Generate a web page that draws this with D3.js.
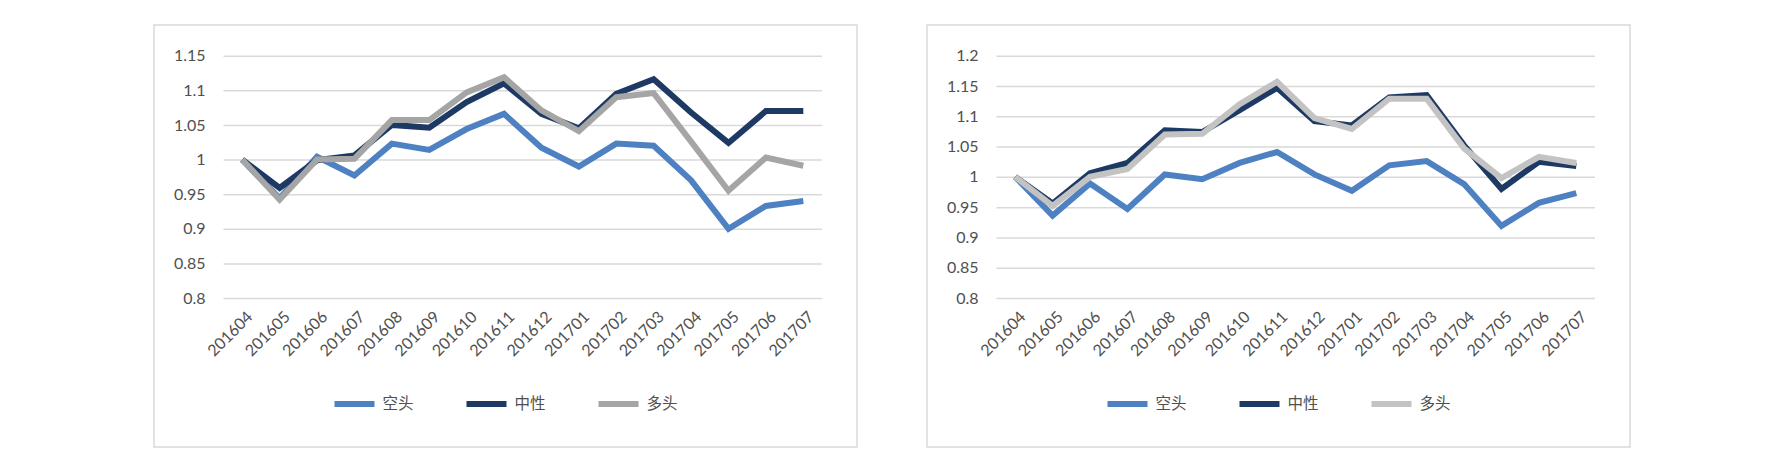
<!DOCTYPE html>
<html>
<head>
<meta charset="utf-8">
<script src="https://cdn.jsdelivr.net/npm/d3@7"></script>
<style>
  body { margin: 0; background: #fff; }
  svg text { font-family: Lato, "Noto Sans CJK SC", sans-serif; fill: #505050; }
</style>
</head>
<body>
<div id="chart"></div>
<script>
// Data
var months = ["201604", "201605", "201606", "201607", "201608", "201609", "201610", "201611",
  "201612", "201701", "201702", "201703", "201704", "201705", "201706", "201707"];
var seriesNames = ["空头", "中性", "多头"];

var yTicksLeft = [0.8, 0.85, 0.9, 0.95, 1, 1.05, 1.1, 1.15];
var yTicksRight = [0.8, 0.85, 0.9, 0.95, 1, 1.05, 1.1, 1.15, 1.2];

var leftKong = [1, 0.944, 1.004, 0.977, 1.023, 1.014, 1.044, 1.066, 1.017, 0.990, 1.023, 1.020, 0.970, 0.900, 0.933, 0.940];
var leftZhong = [1, 0.959, 0.999, 1.006, 1.050, 1.046, 1.083, 1.110, 1.066, 1.045, 1.095, 1.116, 1.068, 1.024, 1.070, 1.070];
var leftDuo = [1, 0.942, 1.000, 1.001, 1.057, 1.057, 1.097, 1.119, 1.071, 1.041, 1.090, 1.096, 1.026, 0.955, 1.003, 0.991];

var rightKong = [1, 0.936, 0.989, 0.947, 1.004, 0.996, 1.023, 1.041, 1.004, 0.977, 1.019, 1.026, 0.988, 0.919, 0.957, 0.973];
var rightZhong = [1, 0.956, 1.006, 1.023, 1.077, 1.074, 1.110, 1.147, 1.092, 1.085, 1.131, 1.135, 1.052, 0.980, 1.025, 1.018];
var rightDuo = [1, 0.952, 1.000, 1.013, 1.070, 1.071, 1.120, 1.157, 1.097, 1.079, 1.129, 1.129, 1.047, 0.998, 1.033, 1.023];

// Page setup
var svgWidth = 1768;
var svgHeight = 466;

var svg = d3.select("#chart").append("svg")
  .attr("width", svgWidth)
  .attr("height", svgHeight);

function drawChart(boxX, ticks, values, colors) {
  var box = { x: boxX, y: 25, w: 703, h: 422 };
  var plot = { left: boxX + 69.5, right: boxX + 668, top: 55.7, bottom: 298 };

  var g = svg.append("g");

  g.append("rect")
    .attr("x", box.x)
    .attr("y", box.y)
    .attr("width", box.w)
    .attr("height", box.h)
    .attr("fill", "#fff")
    .attr("stroke", "#d9d9d9")
    .attr("stroke-width", 1.5);

  var xScale = d3.scalePoint()
    .domain(months)
    .range([plot.left, plot.right])
    .padding(0.5);

  var yScale = d3.scaleLinear()
    .domain([d3.min(ticks), d3.max(ticks)])
    .range([plot.bottom, plot.top]);

  // gridlines + y labels
  var leftAxis = d3.axisLeft(yScale)
    .tickValues(ticks)
    .tickSize(-(plot.right - plot.left))
    .tickPadding(18)
    .tickFormat(d => d3.format("")(+d.toFixed(2)));

  var yAxis = g.append("g")
    .attr("transform", `translate(${plot.left}, 0)`)
    .call(leftAxis);
  yAxis.select(".domain").remove();
  yAxis.selectAll(".tick line")
    .attr("stroke", "#d9d9d9")
    .attr("stroke-width", 1.5);
  yAxis.selectAll(".tick text")
    .attr("font-size", "16px")
    .attr("fill", "#505050");

  // x labels, rotated
  var bottomAxis = d3.axisBottom(xScale).tickSize(0).tickPadding(0);
  var xAxis = g.append("g")
    .attr("transform", `translate(0, ${plot.bottom})`)
    .call(bottomAxis);
  xAxis.select(".domain").remove();
  xAxis.selectAll(".tick text")
    .attr("font-size", "16px")
    .attr("fill", "#505050")
    .attr("text-anchor", "end")
    .attr("dy", "0.35em")
    .attr("transform", "translate(7, 16) rotate(-45)");

  // lines
  var line = d3.line()
    .x((d, i) => xScale(months[i]))
    .y(d => yScale(d));

  values.forEach(function(vals, k) {
    g.append("path")
      .datum(vals)
      .attr("d", line)
      .attr("fill", "none")
      .attr("stroke", colors[k])
      .attr("stroke-width", 6)
      .attr("stroke-linejoin", "miter");
  });

  // legend
  var itemWidths = [40 + 8 + 30, 40 + 8 + 30, 40 + 8 + 30];
  var itemGap = 54;
  var total = d3.sum(itemWidths) + itemGap * 2;
  var lx = box.x + box.w / 2 - total / 2;
  var legendY = 404;

  seriesNames.forEach(function(name, k) {
    g.append("line")
      .attr("x1", lx)
      .attr("x2", lx + 40)
      .attr("y1", legendY)
      .attr("y2", legendY)
      .attr("stroke", colors[k])
      .attr("stroke-width", 6);
    g.append("text")
      .attr("x", lx + 48)
      .attr("y", legendY)
      .attr("dy", "0.35em")
      .attr("font-size", "15.5px")
      .attr("fill", "#505050")
      .text(name);
    lx += itemWidths[k] + itemGap;
  });
}

drawChart(154, yTicksLeft, [leftKong, leftZhong, leftDuo], ["#4e81c2", "#1e3a64", "#a5a5a5"]);
drawChart(927, yTicksRight, [rightKong, rightZhong, rightDuo], ["#4e81c2", "#1e3a64", "#c3c3c3"]);
</script>
</body>
</html>
